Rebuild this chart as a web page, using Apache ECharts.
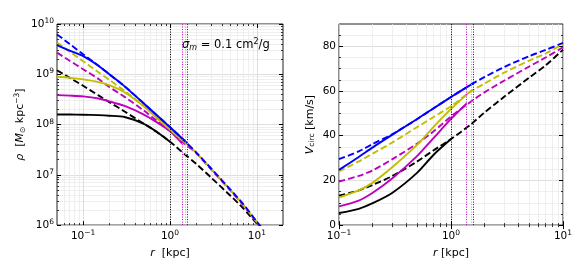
<!DOCTYPE html>
<html><head><meta charset="utf-8">
<script src="https://cdn.jsdelivr.net/npm/echarts@6/dist/echarts.min.js"></script>
<style>html,body{margin:0;padding:0;background:#fff}#c{width:581px;height:264px}</style>
</head><body><div id="c"></div>
<script>
// ---------- data ----------
// left panel: density profiles rho(r) [Msun/kpc^3]
const rL = [0.05,0.07,0.1,0.15,0.2,0.3,0.5,0.7,1,1.5,2,3,5,7,10,12];
const rhoBlueDash = [6.2e9,4.0e9,2.5e9,1.48e9,1.0e9,5.75e8,2.63e8,1.55e8,8.9e7,4.6e7,2.8e7,1.32e7,5.0e6,2.6e6,1.17e6,7.9e5];
const rhoYelDash  = [4.27e9,2.82e9,1.82e9,1.1e9,7.76e8,4.68e8,2.34e8,1.38e8,8.13e7,4.37e7,2.75e7,1.29e7,4.9e6,2.51e6,1.15e6,7.8e5];
const rhoMagDash  = [2.7e9,1.86e9,1.26e9,8.1e8,5.6e8,3.55e8,1.9e8,1.2e8,7.4e7,4.07e7,2.7e7,1.26e7,4.8e6,2.45e6,1.12e6,7.6e5];
const rhoBlkDash  = [1.2e9,8.5e8,5.9e8,3.8e8,2.8e8,1.82e8,1.04e8,7.2e7,4.57e7,2.5e7,1.66e7,8.7e6,3.8e6,2.14e6,1.07e6,7.6e5];
const rBlueCoreL = [0.05,0.07,0.1,0.15,0.2,0.3,0.5,0.7,1,1.58];
const rhoBlueSolid = [3.8e9,2.95e9,2.3e9,1.48e9,1.0e9,5.75e8,2.63e8,1.55e8,8.9e7,4.27e7];
const rYelCoreL = [0.05,0.07,0.1,0.15,0.2,0.3,0.5,0.7,1,1.51];
const rhoYelSolid = [8.9e8,8.5e8,7.9e8,7.0e8,6.1e8,4.4e8,2.3e8,1.37e8,7.9e7,4.3e7];
const rMagCoreL = [0.05,0.07,0.1,0.15,0.2,0.3,0.5,0.7,1,1.38];
const rhoMagSolid = [3.85e8,3.76e8,3.63e8,3.3e8,2.9e8,2.34e8,1.58e8,1.12e8,7.4e7,4.2e7];
const rBlkCoreL = [0.05,0.07,0.1,0.15,0.2,0.3,0.5,0.7,1];
const rhoBlkSolid = [1.58e8,1.58e8,1.57e8,1.54e8,1.5e8,1.41e8,1.03e8,7.2e7,4.57e7];

// right panel: circular velocity V(r) [km/s]
const rR = [0.1,0.15,0.2,0.3,0.5,0.7,1,1.5,2,3,5,7,10];
const vBlueDash = [29.5,33,36.3,40.7,47.5,52.3,57.3,62.8,66.3,70.8,75.6,78.4,81.5];
const vYelDash  = [24.0,28.5,32,37,43.9,48.4,53.2,59.8,63.4,68.3,73.6,76.8,81.0];
const vMagDash  = [19.5,22,24.5,29.5,36.5,42,48.6,55.2,59.5,64.7,71,75,79.6];
const vBlkDash  = [13.2,15.5,18,22,28.5,33.5,38.5,45,50.5,57.5,66,71.5,78.5];
const rBlueCoreR = [0.1,0.15,0.2,0.3,0.5,0.7,1,1.58];
const vBlueSolid = [24.7,30.5,34.8,40.5,47.5,52.3,57.3,63.5];
const rYelCoreR = [0.1,0.15,0.2,0.3,0.5,0.7,1,1.51];
const vYelSolid = [12.3,15.5,19,26,36,44,52,60.2];
const rMagCoreR = [0.1,0.15,0.2,0.3,0.5,0.7,1,1.38];
const vMagSolid = [8.4,11,14.5,21,31,39,47.5,54.5];
const rBlkCoreR = [0.1,0.15,0.2,0.3,0.5,0.7,1];
const vBlkSolid = [5.4,7.3,9.8,14.5,23.5,31.5,38.5];

// core radii (vertical dotted lines)
const r1Black = 1.0, r1Mag = 1.38, r1Yel = 1.51, r1Blue = 1.58;

// tick labels
const xMajorL = [0.1,1,10];
const xMajorR = [0.1,1,10];
const yMajorL = [1e6,1e7,1e8,1e9,1e10];
const yMajorR = [0,20,40,60,80];

// ---------- styling / helpers ----------
const FONT = 'DejaVu Sans';
const COL = {blue:'#0000ff', yel:'#bfbf00', mag:'#bf00bf', blk:'#000000'};
const GRIDMAJ = '#d6d6d6', GRIDMIN = '#ebebeb';
const pairs = (xs, ys) => xs.map((x,i)=>[x, ys[i]]);

function logMinors(min, max){
  const out=[];
  for(let k=Math.floor(Math.log10(min)); k<=Math.ceil(Math.log10(max)); k++){
    for(let d=2; d<=9; d++){ const v=d*Math.pow(10,k); if(v>min*1.0001 && v<max*0.9999) out.push(+v.toPrecision(3)); }
  }
  return out;
}
function linMinors(min,max,step,majors){
  const out=[]; for(let v=min; v<=max+1e-9; v+=step){ if(v>min && v<max && majors.indexOf(v)<0) out.push(v);} return out;
}
const pow10Label = v => { const e=Math.round(Math.log10(v)); return '{b|10}{s|'+(e<0?'\u2212'+(-e):e)+'}'; };
const richLab = { b:{fontFamily:FONT,fontSize:10.5,color:'#000',lineHeight:14}, s:{fontFamily:FONT,fontSize:7.5,color:'#000',verticalAlign:'top',lineHeight:8, padding:[0,0,6,0]} };

function axes(dim, g, type, min, max, majors, minors, labelFmt, name, nameGap, nameRich){
  const posA = dim==='x'?'bottom':'left', posB = dim==='x'?'top':'right';
  const base = {gridIndex:g, type:type, min:min, max:max, axisLine:{show:false}, minorTick:{show:false}};
  if(type==='log') base.logBase=10;
  const tickMaj = {show:true, inside:true, length:4, lineStyle:{color:'#000',width:1}, customValues:majors};
  const tickMin = {show:true, inside:true, length:2, lineStyle:{color:'#000',width:0.8}, customValues:minors};
  return [
    Object.assign({}, base, {position:posA, axisTick:tickMaj,
      axisLabel:{show:true, customValues:majors, formatter:labelFmt, fontFamily:FONT, fontSize:10.5, color:'#000', margin: dim==='x'?4:3, rich:richLab},
      splitLine:{show:true, lineStyle:{color:GRIDMAJ,width:0.8}},
      name:name, nameLocation:'middle', nameGap:nameGap,
      nameTextStyle:{fontFamily:FONT, fontSize:11, color:'#000', rich:nameRich}}),
    Object.assign({}, base, {position:posA, axisTick:tickMin, axisLabel:{show:false},
      splitLine:{show:true, lineStyle:{color:GRIDMIN,width:0.8}}}),
    Object.assign({}, base, {position:posB, axisTick:tickMaj, axisLabel:{show:false}, splitLine:{show:false}}),
    Object.assign({}, base, {position:posB, axisTick:tickMin, axisLabel:{show:false}, splitLine:{show:false}})
  ];
}

const nameRich = {
  i:{fontFamily:FONT, fontSize:11, fontStyle:'italic', color:'#000'},
  n:{fontFamily:FONT, fontSize:11, color:'#000'},
  sub:{fontFamily:FONT, fontSize:7.5, color:'#000', verticalAlign:'bottom', padding:[4,0,0,0]},
  sup:{fontFamily:FONT, fontSize:7.5, color:'#000', verticalAlign:'top', padding:[0,0,6,0]}
};

const xL = axes('x',0,'log',0.05,20,xMajorL,logMinors(0.05,20),pow10Label,'{i|r}{n|  [kpc]}',19,nameRich);
const yL = axes('y',0,'log',1e6,1e10,yMajorL,logMinors(1e6,1e10),pow10Label,'{i|\u03c1}{n|  [}{i|M}{sub|\u2299}{n| kpc}{sup|\u22123}{n|]}',29,nameRich);
const xR = axes('x',1,'log',0.1,10,xMajorR,logMinors(0.1,10),pow10Label,'{i|r}{n| [kpc]}',19,nameRich);
const yR = axes('y',1,'value',0,90,yMajorR,linMinors(0,90,5,yMajorR),v=>'{b|'+v+'}','{i|V}{sub|circ}{n| [km/s]}',23,nameRich);

const xAxis = xL.concat(xR);   // indices 0..3 left, 4..7 right
const yAxis = yL.concat(yR);

function vline(val,color){
  return {silent:true, symbol:['none','none'], label:{show:false}, animation:false,
    lineStyle:{color:color, type:[1,1.5], width:1}, data:[{xAxis:val}]};
}
function line(data, color, dashed, xi, yi, ml){
  const s = {type:'line', data:data, xAxisIndex:xi, yAxisIndex:yi, showSymbol:false, symbol:'none',
    smooth:0.25, clip:true, animation:false,
    lineStyle:{color:color, width:1.9, type: dashed?[6.5,3]:'solid', cap:'butt'}};
  if(ml) s.markLine = ml;
  return s;
}

const series = [
  // left
  line(pairs(rBlkCoreL,rhoBlkSolid), COL.blk, false, 0, 0, vline(r1Black,COL.blk)),
  line(pairs(rL,rhoBlkDash), COL.blk, true, 0, 0),
  line(pairs(rMagCoreL,rhoMagSolid), COL.mag, false, 0, 0, vline(r1Mag,COL.mag)),
  line(pairs(rL,rhoMagDash), COL.mag, true, 0, 0),
  line(pairs(rYelCoreL,rhoYelSolid), COL.yel, false, 0, 0, vline(r1Yel,COL.yel)),
  line(pairs(rL,rhoYelDash), COL.yel, true, 0, 0),
  line(pairs(rBlueCoreL,rhoBlueSolid), COL.blue, false, 0, 0, vline(r1Blue,COL.blue)),
  line(pairs(rL,rhoBlueDash), COL.blue, true, 0, 0),
  // right
  line(pairs(rBlkCoreR,vBlkSolid), COL.blk, false, 4, 4, vline(r1Black,COL.blk)),
  line(pairs(rR,vBlkDash), COL.blk, true, 4, 4),
  line(pairs(rMagCoreR,vMagSolid), COL.mag, false, 4, 4, vline(r1Mag,COL.mag)),
  line(pairs(rR,vMagDash), COL.mag, true, 4, 4),
  line(pairs(rYelCoreR,vYelSolid), COL.yel, false, 4, 4, vline(r1Yel,COL.yel)),
  line(pairs(rR,vYelDash), COL.yel, true, 4, 4),
  line(pairs(rBlueCoreR,vBlueSolid), COL.blue, false, 4, 4, vline(r1Blue,COL.blue)),
  line(pairs(rR,vBlueDash), COL.blue, true, 4, 4)
];

const chart = echarts.init(document.getElementById('c'), null, {renderer:'canvas'});
chart.setOption({
  animation:false,
  backgroundColor:'#fff',
  grid:[
    {left:57, top:24, width:226, height:207, show:true, borderColor:'#222', borderWidth:1, backgroundColor:'transparent', containLabel:false},
    {left:339, top:24, width:224, height:207, show:true, borderColor:'#222', borderWidth:1, backgroundColor:'transparent', containLabel:false}
  ],
  xAxis:xAxis, yAxis:yAxis, series:series,
  graphic:[{
    type:'text', left:182, top:38, z:100,
    style:{
      text:'{i|\u03c3}{si|m}{n| = 0.1 cm}{sp|2}{n|/g}',
      rich:{
        i:{fontFamily:FONT,fontSize:11.5,fontStyle:'italic',fill:'#000'},
        si:{fontFamily:FONT,fontSize:8,fontStyle:'italic',fill:'#000',verticalAlign:'bottom',padding:[4,0,0,0]},
        n:{fontFamily:FONT,fontSize:11.5,fill:'#000'},
        sp:{fontFamily:FONT,fontSize:8,fill:'#000',verticalAlign:'top',padding:[0,0,6,0]}
      }
    }
  }]
});
</script></body></html>
